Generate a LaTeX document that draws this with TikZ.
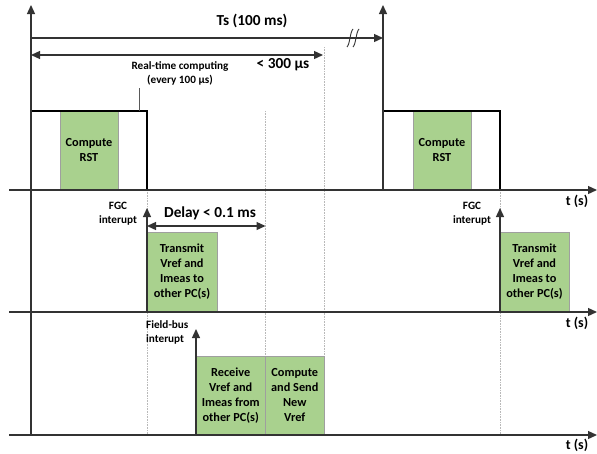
\documentclass[tikz,border=0pt]{standalone}
\usepackage{fontspec}
\setmainfont{Carlito}
\usetikzlibrary{arrows.meta}
\definecolor{taskgreen}{HTML}{A9D18E}
\definecolor{axisgray}{HTML}{333333}
\tikzset{
  axisline/.style={draw=axisgray, line width=1.3pt},
  tipped/.style={-{Triangle[length=9pt,width=8pt]}},
  bothtipped/.style={{Triangle[length=9pt,width=8pt]}-{Triangle[length=9pt,width=8pt]}},
  pulseline/.style={draw=black, line width=1.7pt},
  taskbox/.style={draw=gray!75, fill=taskgreen, line width=0.9pt, inner sep=0pt, outer sep=0pt,
    align=center, font=\bfseries\fontsize{12.3}{15}\selectfont},
  guide/.style={draw=gray!55, densely dotted, line width=0.6pt},
  biglbl/.style={font=\bfseries\fontsize{15.3}{17}\selectfont, inner sep=0pt},
  axlbl/.style={font=\bfseries\fontsize{14}{16}\selectfont, inner sep=0pt},
  smalllbl/.style={font=\bfseries\fontsize{11.2}{14}\selectfont, align=center, inner sep=0pt},
}
\begin{document}
\begin{tikzpicture}[x=1pt,y=-1pt]
\useasboundingbox (0,0) rectangle (597,453);
% coordinates
\coordinate (yaxB) at (31,435);
\coordinate (yaxT) at (31,5);
\coordinate (y2B) at (383,190);
\coordinate (y2T) at (383,5);
\coordinate (h1L) at (9,190);   \coordinate (h1R) at (597,190);
\coordinate (h2L) at (9,312);   \coordinate (h2R) at (597,312);
\coordinate (h3L) at (9,435);   \coordinate (h3R) at (597,435);
% guides
\draw[guide] (147,190) -- (147,435);
\draw[guide] (265.5,111) -- (265.5,435);
\draw[guide] (324,47) -- (324,435);
\draw[guide] (500,190) -- (500,435);
% task boxes
\node[taskbox, minimum width=58pt, minimum height=79pt, anchor=south west] (rst1) at (60,190) {Compute\\RST};
\node[taskbox, minimum width=58pt, minimum height=79pt, anchor=south west] (rst2) at (413,190) {Compute\\RST};
\node[taskbox, minimum width=70pt, minimum height=80pt, anchor=south west] (tx1) at (147,312) {Transmit\\Vref and\\Imeas to\\other PC(s)};
\node[taskbox, minimum width=69pt, minimum height=80pt, anchor=south west] (tx2) at (500,312) {Transmit\\Vref and\\Imeas to\\other PC(s)};
\node[taskbox, minimum width=69.5pt, minimum height=79pt, anchor=south west] (rx) at (196,435) {Receive\\Vref and\\Imeas from\\other PC(s)};
\node[taskbox, minimum width=58.5pt, minimum height=79pt, anchor=south west] (cs) at (265.5,435) {Compute\\and Send\\New\\Vref};
% pulses
\draw[pulseline] (31,190) -- (31,111) -- (147,111) -- (147,190);
\draw[pulseline] (383,190) -- (383,111) -- (500,111) -- (500,190);
% axes
\draw[axisline, tipped] (yaxB) -- (yaxT);
\draw[axisline, tipped] (y2B) -- (y2T);
\draw[axisline, tipped] (h1L) -- (h1R);
\draw[axisline, tipped] (h2L) -- (h2R);
\draw[axisline, tipped] (h3L) -- (h3R);
\node[axlbl] (t1) at (577,201) {t (s)};
\node[axlbl] (t2) at (577,323) {t (s)};
\node[axlbl] (t3) at (577,445) {t (s)};
% Ts arrow
\coordinate (tsL) at (31,38);
\coordinate (tsR) at (383,38);
\draw[axisline, tipped] (tsL) -- (tsR);
\draw[axisline, line width=0.9pt] (347,47) .. controls (350,44) and (350,32) .. (353,29);
\draw[axisline, line width=0.9pt] (353,47) .. controls (356,44) and (356,32) .. (359,29);
\node[biglbl] (ts) at (252,21) {Ts (100 ms)};
% 300 us arrow
\coordinate (rtL) at (31,55);
\coordinate (rtR) at (323,55);
\draw[axisline, bothtipped] (rtL) -- (rtR);
\node[biglbl] (rtlbl) at (283,65) {< 300 µs};
% real-time label
\node[smalllbl] (rtc) at (180,73.5) {Real-time computing\\(every 100 µs)};
\coordinate (rtcP) at (139,88);
\coordinate (rtcQ) at (139,111);
\draw[draw=gray!70!black, line width=0.8pt] (rtcP) -- (rtcQ);
% FGC interrupts
\coordinate (fgc1B) at (147,312); \coordinate (fgc1T) at (147,208);
\draw[axisline, tipped] (fgc1B) -- (fgc1T);
\node[smalllbl] (fgc1) at (118,214) {FGC\\interupt};
\coordinate (fgc2B) at (500,312); \coordinate (fgc2T) at (500,208);
\draw[axisline, tipped] (fgc2B) -- (fgc2T);
\node[smalllbl] (fgc2) at (472,214) {FGC\\interupt};
% Delay
\coordinate (dL) at (147,226); \coordinate (dR) at (265.5,226);
\draw[axisline, bothtipped] (dL) -- (dR);
\node[biglbl] (dly) at (210,213) {Delay < 0.1 ms};
% Field-bus
\coordinate (fbB) at (196,435); \coordinate (fbT) at (196,329);
\draw[axisline, tipped] (fbB) -- (fbT);
\node[smalllbl, align=left, anchor=west] (fb) at (146,332.5) {Field-bus\\interupt};
\end{tikzpicture}
\end{document}
